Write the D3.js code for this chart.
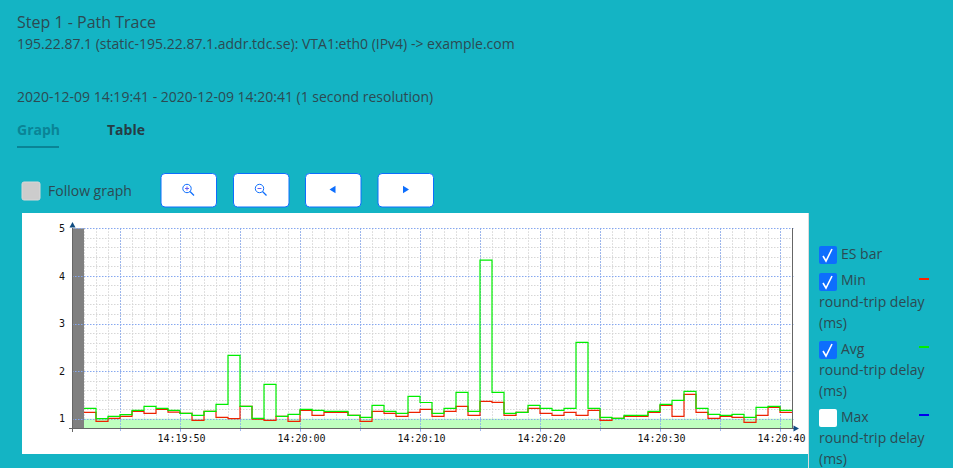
<!DOCTYPE html>
<html>
<head>
<meta charset="utf-8">
<script src="https://cdn.jsdelivr.net/npm/d3@7"></script>
<style>
  html, body { margin: 0; padding: 0; background: #14b4c4; overflow: hidden; }
  svg { display: block; }
  text { font-family: "Open Sans", sans-serif; fill: #2c4a52; }
  .mono text, text.mono { font-family: "DejaVu Sans Mono", monospace; font-size: 10px; fill: #111; }
  .domain { display: none; }
</style>
</head>
<body>
<div id="page"></div>
<script>
// avg / min round-trip delay (ms), one value per second from 14:19:42
const avgDelay = [
  1.217, 1.0, 1.05, 1.084, 1.175, 1.26, 1.217, 1.175, 1.11, 1.07,
  1.154, 1.30, 2.33, 1.26, 1.007, 1.72, 1.05, 1.09, 1.196, 1.175,
  1.154, 1.154, 1.07, 1.03, 1.28, 1.154, 1.11, 1.47, 1.34, 1.11,
  1.217, 1.553, 1.154, 4.33, 1.553, 1.11, 1.133, 1.28, 1.217, 1.175,
  1.217, 2.605, 1.217, 1.03, 1.007, 1.07, 1.07, 1.154, 1.30, 1.385,
  1.574, 1.217, 1.09, 1.07, 1.09, 1.03, 1.238, 1.26, 1.175
];
const minDelay = [
  1.133, 0.944, 1.007, 1.05, 1.154, 1.11, 1.196, 1.14, 1.11, 0.965,
  1.154, 1.03, 1.0, 1.26, 0.99, 0.965, 1.05, 0.944, 1.175, 1.07,
  1.133, 1.133, 1.07, 0.944, 1.154, 1.11, 1.05, 1.133, 1.196, 1.05,
  1.154, 1.26, 1.07, 1.364, 1.343, 1.07, 1.133, 1.217, 1.11, 1.07,
  1.133, 1.07, 1.175, 0.965, 1.007, 1.05, 1.05, 1.133, 1.28, 1.05,
  1.51, 1.133, 1.007, 1.05, 1.03, 0.923, 1.07, 1.238, 1.133
];
// ES bar: first second is the grey full-height one
const esBar = [
  5, 1, 1, 1, 1, 1, 1, 1, 1, 1, 1, 1, 1, 1, 1, 1, 1, 1, 1, 1,
  1, 1, 1, 1, 1, 1, 1, 1, 1, 1, 1, 1, 1, 1, 1, 1, 1, 1, 1, 1,
  1, 1, 1, 1, 1, 1, 1, 1, 1, 1, 1, 1, 1, 1, 1, 1, 1, 1, 1, 1
];
const yTicks = [1, 2, 3, 4, 5];
const xTickLabels = ["14:19:50", "14:20:00", "14:20:10", "14:20:20", "14:20:30", "14:20:40"];
const legendNames = ["ES bar", "Min", "Avg", "Max"];

const width = 953, height = 468;
const svg = d3.select("#page").append("svg").attr("width", width).attr("height", height);

const parseTime = d3.timeParse("%H:%M:%S");
const formatTime = d3.timeFormat("%H:%M:%S");
const start = parseTime("14:19:41");
const end = parseTime("14:20:41");
const second = i => d3.timeSecond.offset(start, i);

const gridGrey = "#d6d6d6";
const gridBlue = "#86a8f0";
const gridDash = "1.5 1.5";

// ---- header text
function label(x, y, str, size, opts) {
  opts = opts || {};
  return svg.append("text").attr("x", x).attr("y", y)
    .style("font-size", size + "px")
    .style("font-weight", opts.weight || 400)
    .style("fill", opts.fill || null)
    .text(str);
}
label(17, 28, "Step 1 - Path Trace", 16);
label(17, 49, "195.22.87.1 (static-195.22.87.1.addr.tdc.se): VTA1:eth0 (IPv4) -> example.com", 14);
label(17, 102, "2020-12-09 14:19:41 - 2020-12-09 14:20:41 (1 second resolution)", 14);
label(17, 135, "Graph", 14, {weight: 700, fill: "#0a8496"});
label(107, 135, "Table", 14, {weight: 700, fill: "#263c44"});
svg.append("rect").attr("x", 17).attr("y", 146).attr("width", 42).attr("height", 2).attr("fill", "#0a8496");

// ---- controls
svg.append("rect").attr("x", 22).attr("y", 182).attr("width", 18).attr("height", 18).attr("rx", 2)
  .attr("fill", "#cccccc").attr("stroke", "#d8d8d8");
label(48, 196, "Follow graph", 14);

const btnBlue = "#0d6efd";
const buttons = [[161, "plus"], [233.5, "minus"], [305.5, "left"], [378, "right"]];
buttons.forEach(function(b) {
  const g = svg.append("g").attr("transform", "translate(" + b[0] + ",173.5)");
  g.append("rect").attr("width", 55.5).attr("height", 33.5).attr("rx", 4)
    .attr("fill", "#fff").attr("stroke", btnBlue);
  const c = g.append("g").attr("transform", "translate(27,16)");
  if (b[1] === "left") {
    c.append("path").attr("d", "M-3,0L3,-3.7L3,3.7Z").attr("fill", btnBlue);
  } else if (b[1] === "right") {
    c.append("path").attr("d", "M-2,-3.7L4,0L-2,3.7Z").attr("fill", btnBlue);
  } else {
    c.append("circle").attr("cx", -1).attr("cy", -1).attr("r", 4.2).attr("fill", "none").attr("stroke", btnBlue);
    c.append("path").attr("d", "M2,2L6,6").attr("stroke", btnBlue).attr("stroke-width", 1.2);
    c.append("path").attr("d", b[1] === "plus" ? "M-3,-1H1M-1,-3V1" : "M-3,-1H1").attr("stroke", "#6a5cf0");
  }
});

// ---- chart panel
svg.append("rect").attr("x", 22).attr("y", 213).attr("width", 786).attr("height", 241).attr("fill", "#fff");
svg.append("line").attr("x1", 808.5).attr("x2", 808.5).attr("y1", 213).attr("y2", 468).attr("stroke", "#dcdcdc");

const x = d3.scaleTime().domain([start, end]).range([72, 792]);
const y = d3.scaleLinear().domain([0.79, 5]).range([428.7, 228.3]);
const plot = svg.append("g");

// minor grid
const minorX = d3.range(1, 60).map(second);
const minorY = d3.range(0.8, 5.01, 0.2).filter(v => Math.abs(v - Math.round(v)) > 0.01);
plot.append("g").selectAll("line").data(minorX).enter().append("line")
  .attr("x1", d => x(d) + 0.5).attr("x2", d => x(d) + 0.5).attr("y1", y(5)).attr("y2", y.range()[0])
  .attr("stroke", gridGrey).attr("stroke-dasharray", gridDash);
plot.append("g").selectAll("line").data(minorY).enter().append("line")
  .attr("x1", x(start)).attr("x2", x(end))
  .attr("y1", d => Math.round(y(d)) + 0.5).attr("y2", d => Math.round(y(d)) + 0.5)
  .attr("stroke", gridGrey).attr("stroke-dasharray", gridDash);

// ES bars
plot.append("g").selectAll("rect").data(esBar).enter().append("rect")
  .attr("x", (d, i) => x(second(i)))
  .attr("width", (d, i) => x(second(i + 1)) - x(second(i)))
  .attr("y", d => y(d))
  .attr("height", d => y.range()[0] - y(d))
  .attr("fill", d => d >= 5 ? "#808080" : "#bfffbf");

// major grid
const majorX = d3.range(4, 60, 5).map(second);
plot.append("g").selectAll("line").data(majorX).enter().append("line")
  .attr("x1", d => x(d) + 0.5).attr("x2", d => x(d) + 0.5).attr("y1", y(5)).attr("y2", y.range()[0] + 3)
  .attr("stroke", gridBlue).attr("stroke-dasharray", gridDash);
plot.append("g").selectAll("line").data(yTicks).enter().append("line")
  .attr("x1", x(start)).attr("x2", x(end) + 2)
  .attr("y1", d => Math.round(y(d)) + 0.5).attr("y2", d => Math.round(y(d)) + 0.5)
  .attr("stroke", gridBlue).attr("stroke-dasharray", gridDash);

// delay lines, step-after from the second after the grey bar
const stepLine = d3.line()
  .x(d => x(d.t)).y(d => y(d.v))
  .curve(d3.curveStepAfter);
function series(vals) {
  const pts = vals.map((v, i) => ({t: second(i + 1), v: v}));
  pts.push({t: end, v: vals[vals.length - 1]});
  return pts;
}
plot.append("path").datum(series(minDelay)).attr("d", stepLine)
  .attr("fill", "none").attr("stroke", "#ee2200").attr("stroke-width", 1.2);
plot.append("path").datum(series(avgDelay)).attr("d", stepLine)
  .attr("fill", "none").attr("stroke", "#00ee00").attr("stroke-width", 1.2);

// axes
const xAxis = d3.axisBottom(x)
  .tickValues(xTickLabels.map(d => parseTime(d)))
  .tickFormat(formatTime).tickSize(3).tickPadding(3);
const xAxisG = svg.append("g").attr("class", "mono").attr("transform", "translate(0,428.7)").call(xAxis);
xAxisG.selectAll("line").attr("stroke", gridBlue);
xAxisG.selectAll("text").attr("dx", 1);
const yAxis = d3.axisLeft(y).tickValues(yTicks).tickFormat(d3.format("d")).tickSize(0).tickPadding(7);
svg.append("g").attr("class", "mono").attr("transform", "translate(72,0)").call(yAxis);

const axisLines = [[72.5, 228, 72.5, 432], [69, 428.5, 794, 428.5], [792.5, 228, 792.5, 429]];
svg.append("g").selectAll("line").data(axisLines).enter().append("line")
  .attr("x1", d => d[0]).attr("y1", d => d[1]).attr("x2", d => d[2]).attr("y2", d => d[3])
  .attr("stroke", "#666");
svg.append("path").attr("d", "M72.5,222L75.5,227.5L69.5,227.5Z").attr("fill", "#0f4c81");
svg.append("path").attr("d", "M799,428.5L793.5,425.5L793.5,431.5Z").attr("fill", "#0f4c81");

// ---- legend
const legendChecks = [true, true, true, false];
const legendTops = [246, 273, 341, 409];
const legendColors = [null, "#ff2200", "#00ee00", "#0000ee"];
const legendBase = [259, 285, 354, 422];
legendNames.forEach(function(name, i) {
  const top = legendTops[i];
  const on = legendChecks[i];
  svg.append("rect").attr("x", 819).attr("y", top).attr("width", 18).attr("height", 18).attr("rx", 2)
    .attr("fill", on ? "#0d6efd" : "#fff");
  if (on) {
    svg.append("path").attr("d", "M" + 823 + "," + (top + 10) + "l3,5 l6,-12")
      .attr("fill", "none").attr("stroke", "#fff").attr("stroke-width", 1.6);
  }
  label(841, legendBase[i], name, 14);
  if (legendColors[i]) {
    svg.append("rect").attr("x", 919).attr("y", top + 5).attr("width", 10).attr("height", 2).attr("fill", legendColors[i]);
    label(819, top + 34, "round-trip delay", 14);
    label(819, top + 55, "(ms)", 14);
  }
});
</script>
</body>
</html>
